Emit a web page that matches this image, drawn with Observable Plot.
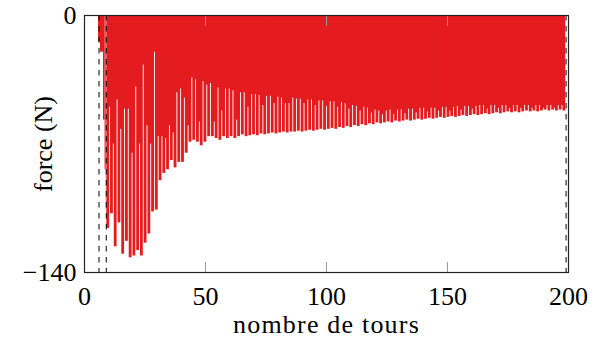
<!DOCTYPE html>
<html><head><meta charset="utf-8">
<script src="https://cdn.jsdelivr.net/npm/d3@7"></script>
<script src="https://cdn.jsdelivr.net/npm/@observablehq/plot@0.6"></script>
<style>
html,body{margin:0;padding:0;background:#fff;}
g[aria-label="x-axis label"] text{letter-spacing:1.2px;}
</style></head><body><div id="chart"></div>
<script>
// ---- data ----
const xTicks = [0, 50, 100, 150, 200];
const yTicks = [-140, 0];
const markerTurns = [6, 9, 199];            // dashed vertical markers
const rampTurns = [5.8, 6.6, 7.85, 8.5, 8.95]; // start-up steps
const rampForce = [-14.5, -20, -57, -84, -106];
const firstCycleTurn = 9.8;                 // turn of first loading cycle
const cycleLength = 1.545;                  // turns per loading cycle
// minimum force reached in each cycle (N)
const cycleMin = [
  -116, -108, -126, -113, -130, -123, -132, -131, -128, -131,
  -124, -119, -107, -106, -90, -86, -84, -79, -83, -80,
  -80, -75, -69, -68, -69, -71, -69, -66, -66, -67,
  -68, -66, -67, -66, -67, -66, -65, -66, -65.5, -65,
  -65.5, -64.5, -65, -64.5, -64, -64.5, -64, -63.5, -64, -63.5,
  -63.5, -63, -63.5, -63, -62.5, -63, -62.5, -62, -62.5, -62,
  -61.5, -62, -61, -61.5, -60.5, -61, -60, -60.5, -59.5, -60,
  -59, -59.5, -58.5, -59, -58.5, -58, -58.5, -57.5, -58, -57.5,
  -57, -57.5, -57, -56.5, -57, -56.5, -56, -56.5, -56, -55.5,
  -56, -55.5, -55, -55.5, -55, -54.5, -55, -54.5, -54, -54.5,
  -54, -53.5, -54, -53.5, -53, -53.5, -53, -52.5, -53, -52.5,
  -53, -52.5, -52, -52.5, -52, -52.5, -52, -51.5, -52, -51.5,
  -52, -51.5, -52
];
// force level at which the signal relaxes between two cycles (N)
const cycleGap = [
  -50, -70, -46, -62, -51, -51, -75, -39, -70, -27,
  -60, -70, -20, -66, -66, -67, -60, -64, -42, -40,
  -45, -60, -34, -35, -58, -36, -38, -37, -58, -39.5,
  -52, -40, -40, -41, -57, -42, -42, -50, -43, -43,
  -43.5, -49, -44, -44, -48, -44.5, -45, -48, -48, -45,
  -45.5, -45.5, -48, -46, -46, -49, -46.5, -46.5, -49.5, -47,
  -47, -50, -47.5, -48, -51, -49, -49.5, -52, -50, -50.5,
  -53, -51.5, -52, -54, -52, -51.5, -54, -51.5, -51.5, -53.5,
  -51, -51, -53, -50.5, -50.5, -52.5, -50.5, -50.5, -52, -50,
  -50, -52, -50, -49.5, -51.5, -49.5, -49.5, -51, -49.5, -49,
  -49, -51, -49, -49, -50.5, -49, -49, -50.5, -49, -49,
  -50.5, -49, -49, -50.5, -49, -49, -50.5, -49, -49, -50.5,
  -49, -49, -49
];

// ---- tables built from the arrays ----
const half = cycleLength / 2;
const cycles = cycleMin.map((m, i) => ({
  turn: firstCycleTurn + i * cycleLength,
  min: m,
  gap: cycleGap[i]
}));
const ramp = rampTurns.map((t, i) => ({
  start: t,
  end: i < rampTurns.length - 1 ? rampTurns[i + 1] : firstCycleTurn - half,
  force: rampForce[i]
}));

const red = "#e41c1f";
const tickShape = {draw(ctx, l) { ctx.moveTo(0, 0); ctx.lineTo(0, -l); }};

const chart = Plot.plot({
  width: 606,
  height: 343,
  marginLeft: 84,
  marginRight: 38,
  marginTop: 15,
  marginBottom: 71,
  style: {fontFamily: "'Liberation Serif', serif", fontSize: "26px", background: "#fff", color: "#000"},
  x: {domain: [0, 200]},
  y: {domain: [-140, 0]},
  marks: [
    Plot.rect(ramp, {x1: "start", x2: "end", y1: 0, y2: "force", fill: red}),
    Plot.rect(cycles, {x1: d => d.turn - half, x2: d => d.turn + half, y1: 0, y2: "min", fill: red, insetLeft: 0.45, insetRight: 0.45}),
    Plot.rect(cycles.slice(0, -1), {x1: "turn", x2: d => d.turn + cycleLength, y1: 0, y2: "gap", fill: red}),
    Plot.ruleX(markerTurns, {stroke: "#000", strokeWidth: 1, strokeDasharray: "5.5,5.5"}),
    Plot.vector(xTicks.slice(1, -1), {x: d => d, frameAnchor: "bottom", length: 10, rotate: 0, anchor: "start", shape: tickShape, stroke: "#999", strokeWidth: 1}),
    Plot.vector(xTicks.slice(1, -1), {x: d => d, frameAnchor: "top", length: 10, rotate: 180, anchor: "start", shape: tickShape, stroke: "#999", strokeWidth: 1}),
    Plot.frame({stroke: "#222", strokeWidth: 1.2}),
    Plot.axisX({ticks: xTicks, tickSize: 0, tickPadding: 14, label: "nombre de tours", labelAnchor: "center", labelOffset: 60, labelArrow: "none"}),
    Plot.axisY({ticks: yTicks, tickSize: 0, tickPadding: 8, label: "force (N)", labelAnchor: "center", labelOffset: 51, labelArrow: "none"})
  ]
});
document.getElementById("chart").appendChild(chart);
</script>
</body></html>
